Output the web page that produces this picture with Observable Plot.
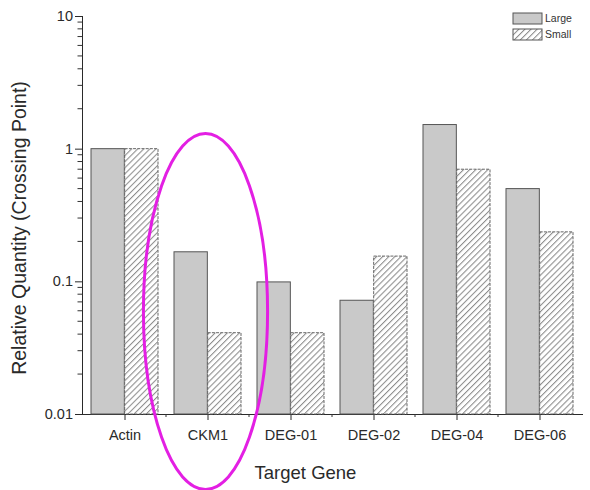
<!DOCTYPE html>
<html><head><meta charset="utf-8">
<script src="https://cdn.jsdelivr.net/npm/d3@7"></script>
<script src="https://cdn.jsdelivr.net/npm/@observablehq/plot@0.6"></script>
<style>body{margin:0;background:#fff;font-family:"Liberation Sans",Arial,sans-serif}</style>
</head><body><div id="chart"></div>
<script>
const genes = ["Actin", "CKM1", "DEG-01", "DEG-02", "DEG-04", "DEG-06"];
const large = [1.0, 0.167, 0.099, 0.072, 1.52, 0.50];
const small = [1.0, 0.041, 0.041, 0.155, 0.70, 0.236];
const seriesNames = ["Large", "Small"];
const yTicks = [0.01, 0.1, 1, 10];
const highlightGene = "CKM1";
const highlightTop = 1.3;      // data value at ellipse top
const highlightBottom = 0.0027; // data value at ellipse bottom
const yLabel = "Relative Quantity (Crossing Point)";
const xLabel = "Target Gene";

const W = 590, H = 490;
const mL = 82, mR = 8, mT = 16, mB = 76;
const step = (W - mL - mR) / genes.length;
const outer = step * 0.096, half = step / 2;

const rows = genes.map((g, i) => ({gene: g, large: large[i], small: small[i]}));

const chart = Plot.plot({
  width: W, height: H,
  marginLeft: mL, marginRight: mR, marginTop: mT, marginBottom: mB,
  style: {fontFamily: "'Liberation Sans', Arial, sans-serif", fontSize: "14.5px", color: "#2a2a2a", background: "white", overflow: "visible"},
  x: {domain: genes, padding: 0, label: null, tickSize: 6, tickPadding: 9.5, line: true},
  y: {type: "log", domain: [0.01, 10], ticks: yTicks, tickFormat: d => String(d), tickSize: 7, tickPadding: 2.5, line: true, label: null},
  marks: [
    Plot.barY(rows, {x: "gene", y1: 0.01, y2: "large", fill: "#c9c9c9", stroke: "#555", strokeWidth: 1, insetLeft: outer, insetRight: half}),
    Plot.barY(rows, {x: "gene", y1: 0.01, y2: "small", fill: "url(#hatch)", stroke: "#666", strokeWidth: 1, strokeDasharray: "3,1.2", insetLeft: half, insetRight: outer})
  ]
});
document.getElementById("chart").appendChild(chart);

const svg = d3.select(chart.tagName.toLowerCase() === "svg" ? chart : chart.querySelector("svg"));
const xs = Plot.scale({x: chart.scale("x")});
const ys = Plot.scale({y: chart.scale("y")});
const bw = xs.bandwidth;

// hatch pattern
const defs = svg.insert("defs", ":first-child");
const pat = defs.append("pattern").attr("id", "hatch").attr("patternUnits", "userSpaceOnUse")
  .attr("width", 4.3).attr("height", 4.3).attr("patternTransform", "rotate(45)");
pat.append("rect").attr("width", 4.3).attr("height", 4.3).attr("fill", "white");
pat.append("line").attr("x1", 0.5).attr("y1", 0).attr("x2", 0.5).attr("y2", 4.3).attr("stroke", "#8c8c8c").attr("stroke-width", 1.1);

const deco = svg.append("g").attr("text-anchor", "start");
// axis titles
const yMid = (ys.apply(0.01) + ys.apply(10)) / 2 + 13;
deco.append("text").attr("transform", `translate(26,${yMid}) rotate(-90)`).attr("text-anchor", "middle")
  .attr("font-size", 19.5).attr("fill", "#2a2a2a").text(yLabel);
deco.append("text").attr("x", xs.apply("DEG-01") + bw / 2 + 15).attr("y", ys.apply(0.01) + 65).attr("text-anchor", "middle")
  .attr("font-size", 18.5).attr("fill", "#2a2a2a").text(xLabel);

// minor y ticks
for (const d of [0.01, 0.1, 1]) {
  for (let m = 2; m <= 9; m++) {
    const yy = ys.apply(d * m);
    deco.append("line").attr("x1", mL - 4.5).attr("x2", mL).attr("y1", yy).attr("y2", yy).attr("stroke", "#333");
  }
}
// boundary ticks on x axis
const yBase = ys.apply(0.01);
for (let i = 1; i < genes.length; i++) {
  const xx = xs.apply(genes[i]);
  deco.append("line").attr("x1", xx).attr("x2", xx).attr("y1", yBase).attr("y2", yBase + 3).attr("stroke", "#333");
}

// legend
const lx = W - 77;
seriesNames.forEach((s, i) => {
  const ly = 13 + i * 16;
  deco.append("rect").attr("x", lx).attr("y", ly).attr("width", 29).attr("height", 11)
    .attr("fill", i === 0 ? "#c9c9c9" : "url(#hatch)").attr("stroke", "#555");
  deco.append("text").attr("x", lx + 32).attr("y", ly + 5.5).attr("dy", "0.35em").attr("text-anchor", "start")
    .attr("font-size", 10.5).attr("fill", "#333").text(s);
});

// highlight ellipse
const yt = ys.apply(highlightTop), yb = ys.apply(highlightBottom);
deco.append("ellipse")
  .attr("cx", xs.apply(highlightGene) + bw / 2 - 2)
  .attr("cy", (yt + yb) / 2)
  .attr("rx", step * 0.745)
  .attr("ry", (yb - yt) / 2)
  .attr("fill", "none").attr("stroke", "#e31fe3").attr("stroke-width", 3);
</script>
</body></html>
